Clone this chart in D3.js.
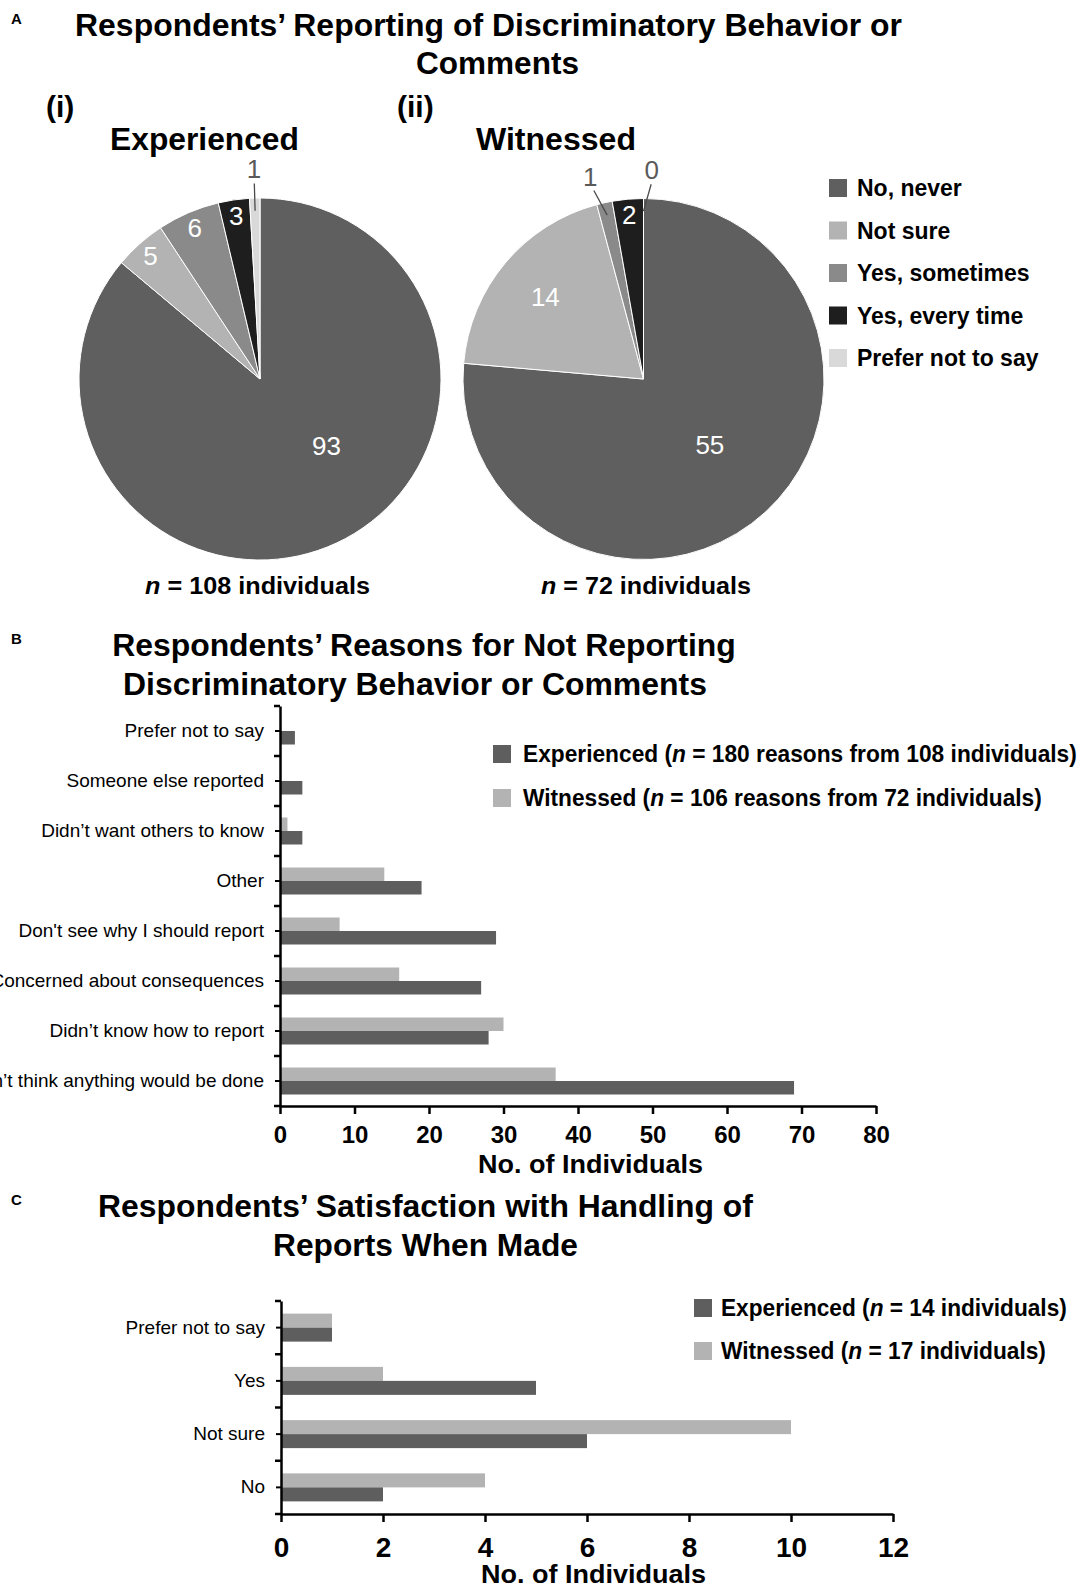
<!DOCTYPE html>
<html>
<head>
<meta charset="utf-8">
<script src="https://cdn.jsdelivr.net/npm/d3@7"></script>
<style>
  body { margin: 0; background: #fff; }
  svg { display: block; }
</style>
</head>
<body>
<svg id="fig" width="1081" height="1586"></svg>
<script>
// ---- Panel A: how often discriminatory behaviour was reported ----
const responseCategories = ["No, never", "Not sure", "Yes, sometimes", "Yes, every time", "Prefer not to say"];
const experiencedCounts = [93, 5, 6, 3, 1];
const witnessedCounts = [55, 14, 1, 2, 0];

// ---- Panel B: reasons for not reporting ----
const reasonCategories = [
  "Prefer not to say",
  "Someone else reported",
  "Didn’t want others to know",
  "Other",
  "Don't see why I should report",
  "Concerned about consequences",
  "Didn’t know how to report",
  "Don’t think anything would be done"
];
const reasonExperienced = [2, 3, 3, 19, 29, 27, 28, 69];
const reasonWitnessed = [0, 0, 1, 14, 8, 16, 30, 37];
const reasonTicks = [0, 10, 20, 30, 40, 50, 60, 70, 80];

// ---- Panel C: satisfaction with handling of reports ----
const satisfactionCategories = ["Prefer not to say", "Yes", "Not sure", "No"];
const satisfactionExperienced = [1, 5, 6, 2];
const satisfactionWitnessed = [1, 2, 10, 4];
const satisfactionTicks = [0, 2, 4, 6, 8, 10, 12];

// ---- styling ----
const FONT = '"Liberation Sans", Arial, Helvetica, sans-serif';
const pieColors = ["#5f5f5f", "#b3b3b3", "#8a8a8a", "#1e1e1e", "#d9d9d9"];
const EXP_COLOR = "#5e5e5e";
const WIT_COLOR = "#b3b3b3";

const svg = d3.select("#fig");

// Text with optional italic runs; optionally squeezed/stretched to a given width
function label(parent, parts, x, y, o = {}) {
  const t = parent.append("text")
    .attr("x", x).attr("y", y)
    .attr("font-family", FONT)
    .attr("font-size", o.size || 20)
    .attr("font-weight", o.weight || "bold")
    .attr("text-anchor", o.anchor || "start")
    .attr("fill", o.fill || "#000");
  if (typeof parts === "string") parts = [{ t: parts }];
  parts.forEach(p => {
    const s = t.append("tspan").text(p.t);
    if (p.i) s.attr("font-style", "italic");
  });
  if (o.width) {
    const w = t.node().getComputedTextLength();
    const k = o.width / w;
    t.attr("transform", `translate(${x},${y}) scale(${k},1) translate(${-x},${-y})`);
  }
  return t;
}

// ================= Panel A =================
label(svg, "A", 11, 24, { size: 15 });
label(svg, "Respondents’ Reporting of Discriminatory Behavior or", 488.5, 36, { size: 31, anchor: "middle", width: 827 });
label(svg, "Comments", 497.5, 74, { size: 31, anchor: "middle", width: 163 });
label(svg, "(i)", 46, 117, { size: 30 });
label(svg, "(ii)", 397, 117, { size: 30 });
label(svg, "Experienced", 204.5, 150, { size: 31, anchor: "middle", width: 189 });
label(svg, "Witnessed", 556, 150, { size: 31, anchor: "middle", width: 160 });

function drawPie(counts, cx, cy, R) {
  const g = svg.append("g").attr("transform", `translate(${cx},${cy})`);
  const total = d3.sum(counts);
  const arcs = d3.pie().sort(null).value(d => d)(counts);
  const arc = d3.arc().innerRadius(0).outerRadius(R);

  g.selectAll("path.slice").data(arcs).join("path")
    .attr("class", "slice")
    .attr("d", arc)
    .attr("fill", (d, i) => pieColors[i])
    .attr("stroke", "#fff")
    .attr("stroke-width", 1);

  const polar = (a, r) => [r * Math.sin(a), -r * Math.cos(a)];
  const mid = d => (d.startAngle + d.endAngle) / 2;

  // Tiny slices get an outside label with a leader line; spread crowded ones apart
  const outside = arcs.filter(d => d.data / total < 0.02).map(d => ({ d, a: mid(d) }));
  outside.sort((p, q) => p.a - q.a);
  const minSep = 17 * Math.PI / 180;
  for (let i = 1; i < outside.length; i++) {
    const gap = outside[i].a - outside[i - 1].a;
    if (gap < minSep) {
      const push = (minSep - gap) / 2;
      outside[i - 1].a -= push;
      outside[i].a += push;
    }
  }
  outside.forEach(o => {
    const [x1, y1] = polar(mid(o.d), R * 0.93);
    const [x2, y2] = polar(o.a, R * 1.08);
    g.append("line").attr("x1", x1).attr("y1", y1).attr("x2", x2).attr("y2", y2)
      .attr("stroke", "#4a4a4a").attr("stroke-width", 1.3);
    const [lx, ly] = polar(o.a, R * 1.16);
    label(g, String(o.d.data), lx, ly, { size: 26, weight: "normal", anchor: "middle", fill: "#5a5a5a" })
      .attr("dy", "0.35em");
  });

  // Inside labels: majority slice label sits in the open lower-right area
  arcs.filter(d => d.data / total >= 0.02).forEach(d => {
    const share = d.data / total;
    let a = mid(d), r;
    if (share > 0.5) { a = Math.PI * 0.75; r = R * 0.52; }
    else if (share > 0.1) { r = R * 0.71; }
    else { r = R * 0.91; }
    const [lx, ly] = polar(a, r);
    label(g, String(d.data), lx, ly, { size: 26, weight: "normal", anchor: "middle", fill: "#fff" })
      .attr("dy", "0.35em");
  });
}

drawPie(experiencedCounts, 260, 379, 181);
drawPie(witnessedCounts, 643.5, 379, 180.5);

// legend shared by both pies
const legA = svg.append("g");
responseCategories.forEach((c, i) => {
  const cy = 188 + i * 42.5;
  legA.append("rect").attr("x", 829).attr("y", cy - 9).attr("width", 18).attr("height", 18).attr("fill", pieColors[i]);
  label(legA, c, 857, cy + 8, { size: 23 });
});

label(svg, [{ t: "n", i: true }, { t: " = 108 individuals" }], 257.5, 594, { size: 24, anchor: "middle", width: 225 });
label(svg, [{ t: "n", i: true }, { t: " = 72 individuals" }], 646, 594, { size: 24, anchor: "middle", width: 210 });

// ================= horizontal grouped bars (panels B and C) =================
function drawBars(cfg) {
  const g = svg.append("g");
  const x = d3.scaleLinear().domain([0, d3.max(cfg.ticks)]).range([cfg.x0, cfg.x1]);
  const y = d3.scaleBand().domain(cfg.cats).range([cfg.top, cfg.bottom]);
  const rows = cfg.cats.map((c, i) => ({ c, exp: cfg.exp[i], wit: cfg.wit[i] }));
  const centre = c => y(c) + y.bandwidth() / 2;

  // witnessed bar just above the category centre, experienced just below
  g.selectAll("rect.wit").data(rows).join("rect")
    .attr("class", "wit")
    .attr("x", x(0)).attr("y", d => centre(d.c) - cfg.barH)
    .attr("width", d => x(d.wit) - x(0)).attr("height", cfg.barH)
    .attr("fill", WIT_COLOR);
  g.selectAll("rect.exp").data(rows).join("rect")
    .attr("class", "exp")
    .attr("x", x(0)).attr("y", d => centre(d.c))
    .attr("width", d => x(d.exp) - x(0)).attr("height", cfg.barH)
    .attr("fill", EXP_COLOR);

  const xAxis = g.append("g").attr("transform", `translate(0,${cfg.bottom})`)
    .call(d3.axisBottom(x).tickValues(cfg.ticks).tickSize(8).tickSizeOuter(0).tickPadding(cfg.tickPad));
  xAxis.select(".domain").attr("stroke", "#000").attr("stroke-width", 2.5);
  xAxis.selectAll(".tick line").attr("stroke", "#000").attr("stroke-width", 2.5);
  xAxis.selectAll(".tick text")
    .attr("font-family", FONT).attr("font-size", cfg.tickSize).attr("font-weight", "bold").attr("fill", "#000");

  const yAxis = g.append("g").attr("transform", `translate(${cfg.x0},0)`)
    .call(d3.axisLeft(y).tickSize(5).tickSizeOuter(0).tickPadding(11));
  yAxis.select(".domain").attr("stroke", "#000").attr("stroke-width", 2.5);
  yAxis.selectAll(".tick line").attr("stroke", "#000").attr("stroke-width", 2);
  yAxis.selectAll(".tick text")
    .attr("font-family", FONT).attr("font-size", 19).attr("fill", "#000");

  // tick marks on the category boundaries
  d3.range(cfg.cats.length + 1).forEach(i => {
    const yy = cfg.top + i * y.step();
    g.append("line").attr("x1", cfg.x0 - 6).attr("x2", cfg.x0).attr("y1", yy).attr("y2", yy)
      .attr("stroke", "#000").attr("stroke-width", 2.5);
  });
  return g;
}

// ================= Panel B =================
label(svg, "B", 11, 644, { size: 15 });
label(svg, "Respondents’ Reasons for Not Reporting", 424, 656, { size: 31, anchor: "middle", width: 624 });
label(svg, "Discriminatory Behavior or Comments", 415, 695, { size: 31, anchor: "middle", width: 584 });

drawBars({
  cats: reasonCategories, exp: reasonExperienced, wit: reasonWitnessed, ticks: reasonTicks,
  x0: 280, x1: 876, top: 706, bottom: 1106, barH: 13.5, tickSize: 24, tickPad: 12
});

const legB = svg.append("g");
legB.append("rect").attr("x", 493).attr("y", 745).attr("width", 18).attr("height", 18).attr("fill", EXP_COLOR);
label(legB, [{ t: "Experienced (" }, { t: "n", i: true }, { t: " = 180 reasons from 108 individuals)" }], 523, 762, { size: 23, width: 554 });
legB.append("rect").attr("x", 493).attr("y", 789).attr("width", 18).attr("height", 18).attr("fill", WIT_COLOR);
label(legB, [{ t: "Witnessed (" }, { t: "n", i: true }, { t: " = 106 reasons from 72 individuals)" }], 523, 806, { size: 23, width: 519 });

label(svg, "No. of Individuals", 590.5, 1173, { size: 26, anchor: "middle", width: 225 });

// ================= Panel C =================
label(svg, "C", 11, 1205, { size: 15 });
label(svg, "Respondents’ Satisfaction with Handling of", 425.5, 1217, { size: 31, anchor: "middle", width: 655 });
label(svg, "Reports When Made", 425.5, 1256, { size: 31, anchor: "middle", width: 305 });

drawBars({
  cats: satisfactionCategories, exp: satisfactionExperienced, wit: satisfactionWitnessed, ticks: satisfactionTicks,
  x0: 281, x1: 893, top: 1301, bottom: 1514, barH: 14, tickSize: 28, tickPad: 15
});

const legC = svg.append("g");
legC.append("rect").attr("x", 694).attr("y", 1299).attr("width", 18).attr("height", 18).attr("fill", EXP_COLOR);
label(legC, [{ t: "Experienced (" }, { t: "n", i: true }, { t: " = 14 individuals)" }], 721, 1316, { size: 23, width: 346 });
legC.append("rect").attr("x", 694).attr("y", 1342).attr("width", 18).attr("height", 18).attr("fill", WIT_COLOR);
label(legC, [{ t: "Witnessed (" }, { t: "n", i: true }, { t: " = 17 individuals)" }], 721, 1359, { size: 23, width: 325 });

label(svg, "No. of Individuals", 593.5, 1583, { size: 26, anchor: "middle", width: 225 });
</script>
</body>
</html>
